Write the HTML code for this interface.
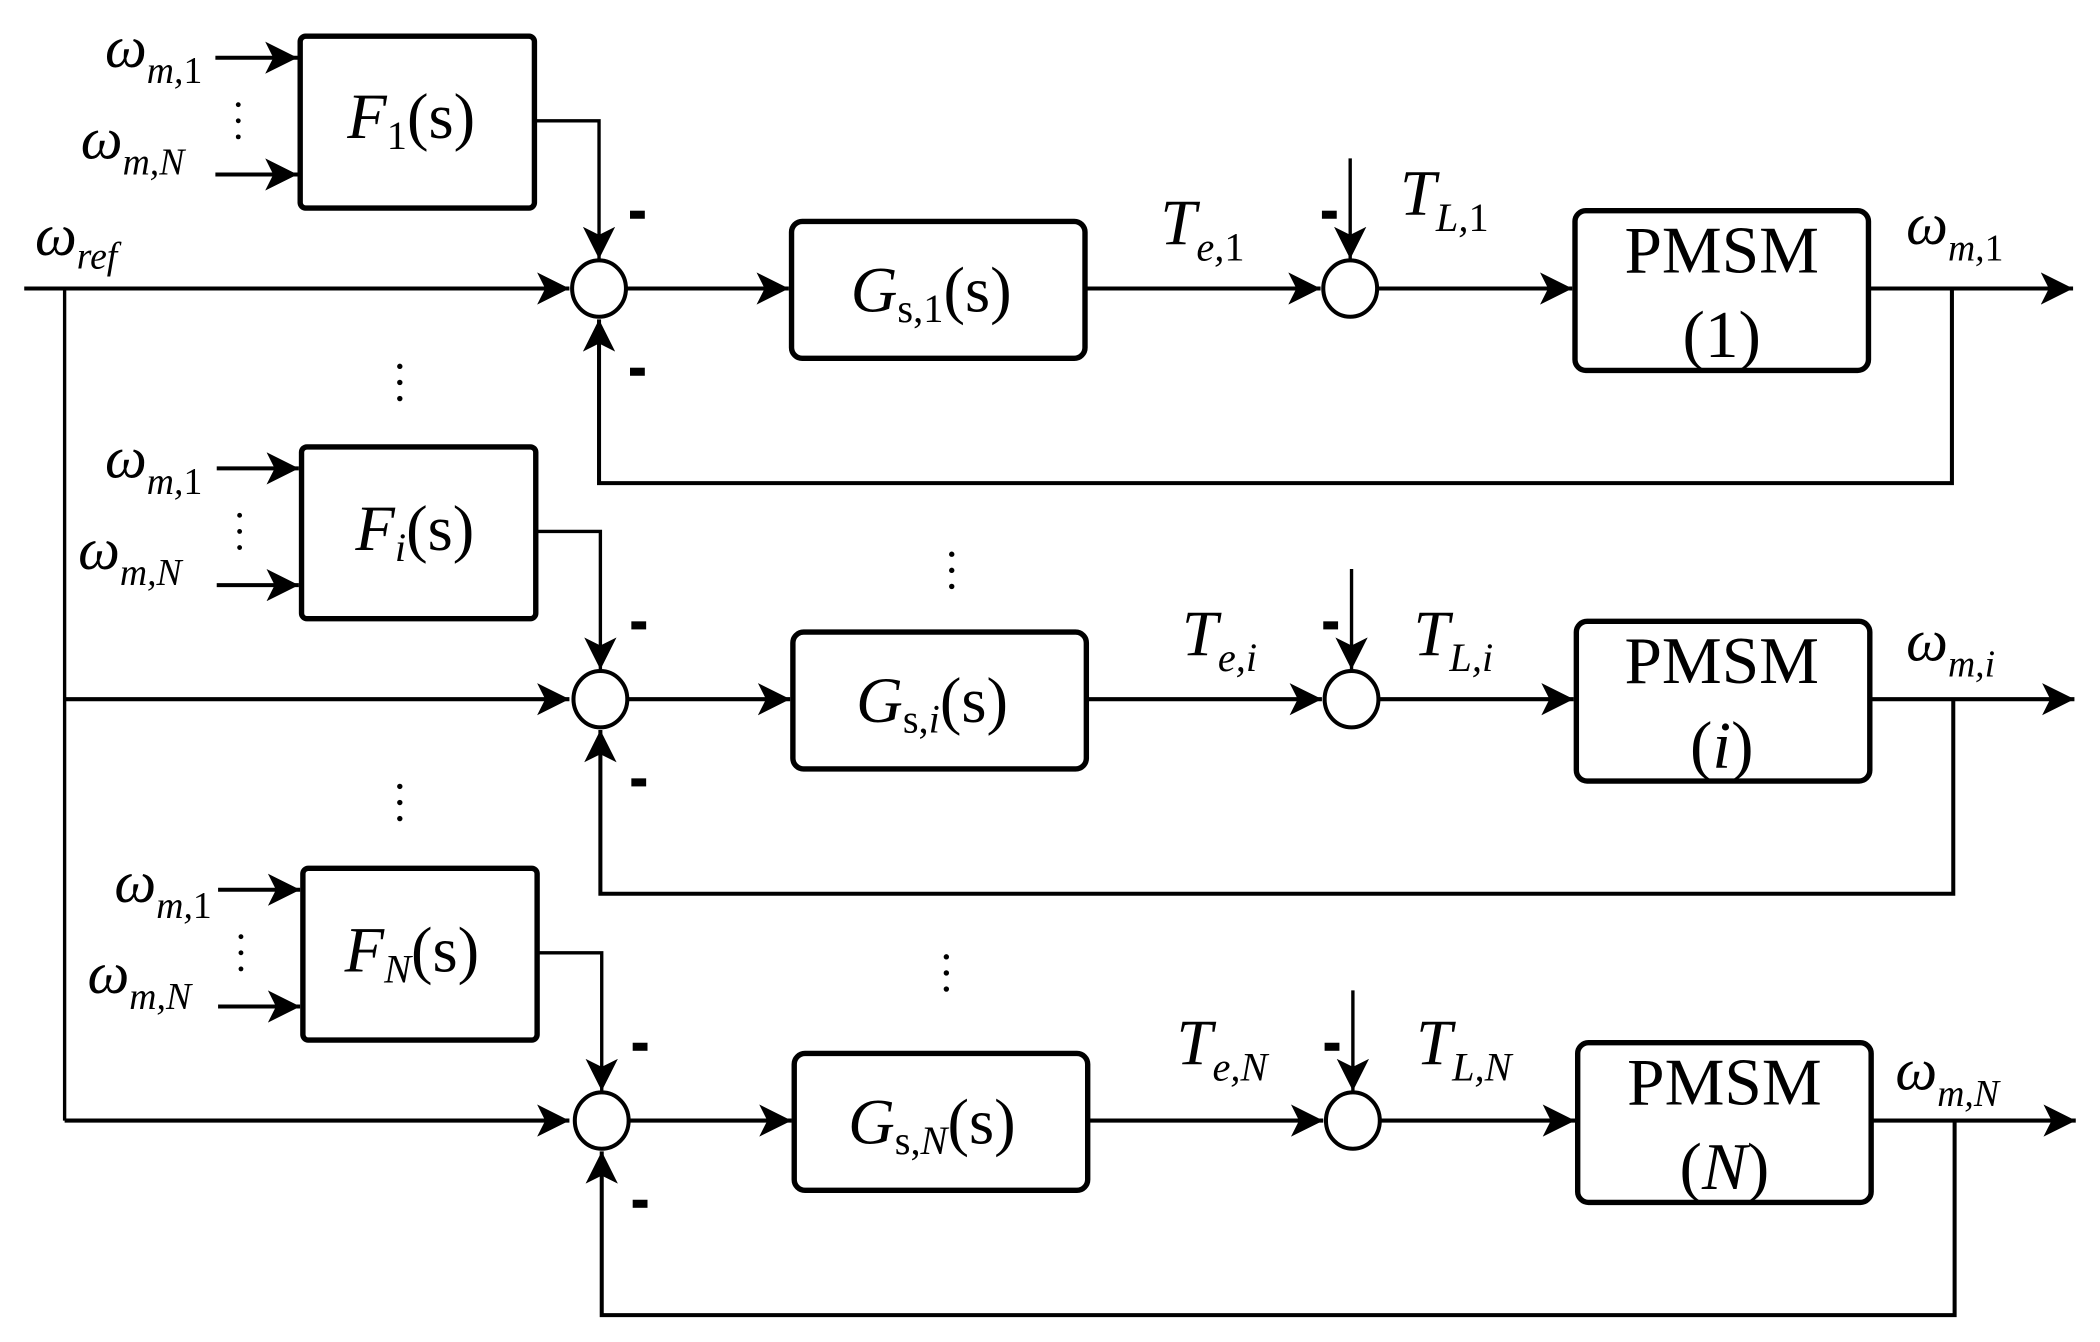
<!DOCTYPE html>
<html><head><meta charset="utf-8"><style>
html,body{margin:0;padding:0;background:#fff}
svg{display:block}
text{font-family:"Liberation Serif","Times New Roman",serif;fill:#000}
.i{font-style:italic}
</style></head><body>
<svg width="2100" height="1342" viewBox="0 0 1560 1000" preserveAspectRatio="none" xmlns="http://www.w3.org/2000/svg" font-family="Liberation Serif, serif">
<defs>
<marker id="a" markerUnits="userSpaceOnUse" markerWidth="26" markerHeight="24" refX="24" refY="12" orient="auto">
<path d="M0,0 L24,12 L0,24 L6,12 Z" fill="#000"/>
</marker>
<g id="row" fill="none" stroke="#000">
  <rect x="223" y="27" width="174" height="128" rx="4" stroke-width="4"/>
  <line x1="160" y1="43" x2="221" y2="43" stroke-width="3" marker-end="url(#a)"/>
  <line x1="160" y1="130" x2="221" y2="130" stroke-width="3" marker-end="url(#a)"/>
  <polyline points="397,90 445,90 445,193" stroke-width="2.5" marker-end="url(#a)"/>
  <ellipse cx="445" cy="215" rx="20" ry="21" stroke-width="3"/>
  <line x1="465" y1="215" x2="586" y2="215" stroke-width="3" marker-end="url(#a)"/>
  <rect x="588" y="165" width="218" height="102" rx="8" stroke-width="4"/>
  <line x1="806" y1="215" x2="981" y2="215" stroke-width="3" marker-end="url(#a)"/>
  <ellipse cx="1003" cy="215" rx="20" ry="21" stroke-width="3"/>
  <line x1="1003" y1="118" x2="1003" y2="193" stroke-width="2.5" marker-end="url(#a)"/>
  <line x1="1023" y1="215" x2="1168" y2="215" stroke-width="3" marker-end="url(#a)"/>
  <rect x="1170" y="157" width="218" height="119" rx="8" stroke-width="4"/>
  <line x1="1388" y1="215" x2="1540" y2="215" stroke-width="3" marker-end="url(#a)"/>
  <polyline points="1450,215 1450,360 445,360 445,238" stroke-width="3" marker-end="url(#a)"/>
  <rect x="468" y="157" width="11" height="6" fill="#000" stroke="none"/>
  <rect x="468" y="274" width="11" height="6" fill="#000" stroke="none"/>
  <rect x="982" y="157" width="11" height="6" fill="#000" stroke="none"/>
  <g fill="#000" stroke="none"><circle cx="177" cy="78" r="1.8"/><circle cx="177" cy="90" r="1.8"/><circle cx="177" cy="102" r="1.8"/></g>
</g>
</defs>

<line x1="18" y1="215" x2="423" y2="215" stroke="#000" stroke-width="3" marker-end="url(#a)"/>
<line x1="48" y1="215" x2="48" y2="835" stroke="#000" stroke-width="2.5"/>
<line x1="48" y1="521" x2="423" y2="521" stroke="#000" stroke-width="3" marker-end="url(#a)"/>
<line x1="48" y1="835" x2="423" y2="835" stroke="#000" stroke-width="3" marker-end="url(#a)"/>

<use href="#row"/>
<use href="#row" transform="translate(1,306)"/>
<use href="#row" transform="translate(2,620)"/>

<g fill="#000">
<circle cx="297" cy="273" r="2"/><circle cx="297" cy="285" r="2"/><circle cx="297" cy="297" r="2"/>
<circle cx="297" cy="586" r="2"/><circle cx="297" cy="598" r="2"/><circle cx="297" cy="610" r="2"/>
<circle cx="707" cy="413" r="2"/><circle cx="707" cy="425" r="2"/><circle cx="707" cy="437" r="2"/>
<circle cx="703" cy="713" r="2"/><circle cx="703" cy="725" r="2"/><circle cx="703" cy="737" r="2"/>
</g>

<text x="78" y="50" font-size="44" class="i">ω<tspan font-size="28" dy="12">m,</tspan><tspan font-size="28" font-style="normal">1</tspan></text>
<text x="60" y="118" font-size="44" class="i">ω<tspan font-size="28" dy="12">m,N</tspan></text>
<text x="26" y="190" font-size="44" class="i">ω<tspan font-size="28" dy="10">ref</tspan></text>
<text x="258" y="103" font-size="48" class="i">F<tspan font-size="30" font-style="normal" dy="8">1</tspan><tspan font-style="normal" dy="-8">(s)</tspan></text>
<text x="632" y="232" font-size="48" class="i">G<tspan font-size="30" font-style="normal" dy="8">s,1</tspan><tspan font-style="normal" dy="-8">(s)</tspan></text>
<text x="862" y="182" font-size="48" class="i">T<tspan font-size="30" dy="12">e,</tspan><tspan font-size="30" font-style="normal">1</tspan></text>
<text x="1040" y="160" font-size="48" class="i">T<tspan font-size="30" dy="12">L,</tspan><tspan font-size="30" font-style="normal">1</tspan></text>
<text x="1279" y="203" font-size="50" text-anchor="middle">PMSM</text>
<text x="1279" y="266" font-size="50" text-anchor="middle">(1)</text>
<text x="1416" y="182" font-size="44" class="i">ω<tspan font-size="28" dy="12">m,</tspan><tspan font-size="28" font-style="normal">1</tspan></text>

<text x="78" y="356" font-size="44" class="i">ω<tspan font-size="28" dy="12">m,</tspan><tspan font-size="28" font-style="normal">1</tspan></text>
<text x="58" y="424" font-size="44" class="i">ω<tspan font-size="28" dy="12">m,N</tspan></text>
<text x="264" y="410" font-size="48" class="i">F<tspan font-size="30" dy="8">i</tspan><tspan font-style="normal" dy="-8">(s)</tspan></text>
<text x="636" y="538" font-size="48" class="i">G<tspan font-size="30" font-style="normal" dy="8">s,</tspan><tspan font-size="30">i</tspan><tspan font-style="normal" dy="-8">(s)</tspan></text>
<text x="878" y="488" font-size="48" class="i">T<tspan font-size="30" dy="12">e,i</tspan></text>
<text x="1050" y="488" font-size="48" class="i">T<tspan font-size="30" dy="12">L,i</tspan></text>
<text x="1279" y="509" font-size="50" text-anchor="middle">PMSM</text>
<text x="1279" y="572" font-size="50" text-anchor="middle">(<tspan font-style="italic">i</tspan>)</text>
<text x="1416" y="492" font-size="44" class="i">ω<tspan font-size="28" dy="12">m,i</tspan></text>

<text x="85" y="672" font-size="44" class="i">ω<tspan font-size="28" dy="12">m,</tspan><tspan font-size="28" font-style="normal">1</tspan></text>
<text x="65" y="740" font-size="44" class="i">ω<tspan font-size="28" dy="12">m,N</tspan></text>
<text x="256" y="724" font-size="48" class="i">F<tspan font-size="30" dy="8">N</tspan><tspan font-style="normal" dy="-8">(s)</tspan></text>
<text x="630" y="852" font-size="48" class="i">G<tspan font-size="30" font-style="normal" dy="8">s,</tspan><tspan font-size="30">N</tspan><tspan font-style="normal" dy="-8">(s)</tspan></text>
<text x="874" y="793" font-size="48" class="i">T<tspan font-size="30" dy="12">e,N</tspan></text>
<text x="1052" y="793" font-size="48" class="i">T<tspan font-size="30" dy="12">L,N</tspan></text>
<text x="1281" y="823" font-size="50" text-anchor="middle">PMSM</text>
<text x="1281" y="886" font-size="50" text-anchor="middle">(<tspan font-style="italic">N</tspan>)</text>
<text x="1408" y="812" font-size="44" class="i">ω<tspan font-size="28" dy="12">m,N</tspan></text>
</svg>
</body></html>
